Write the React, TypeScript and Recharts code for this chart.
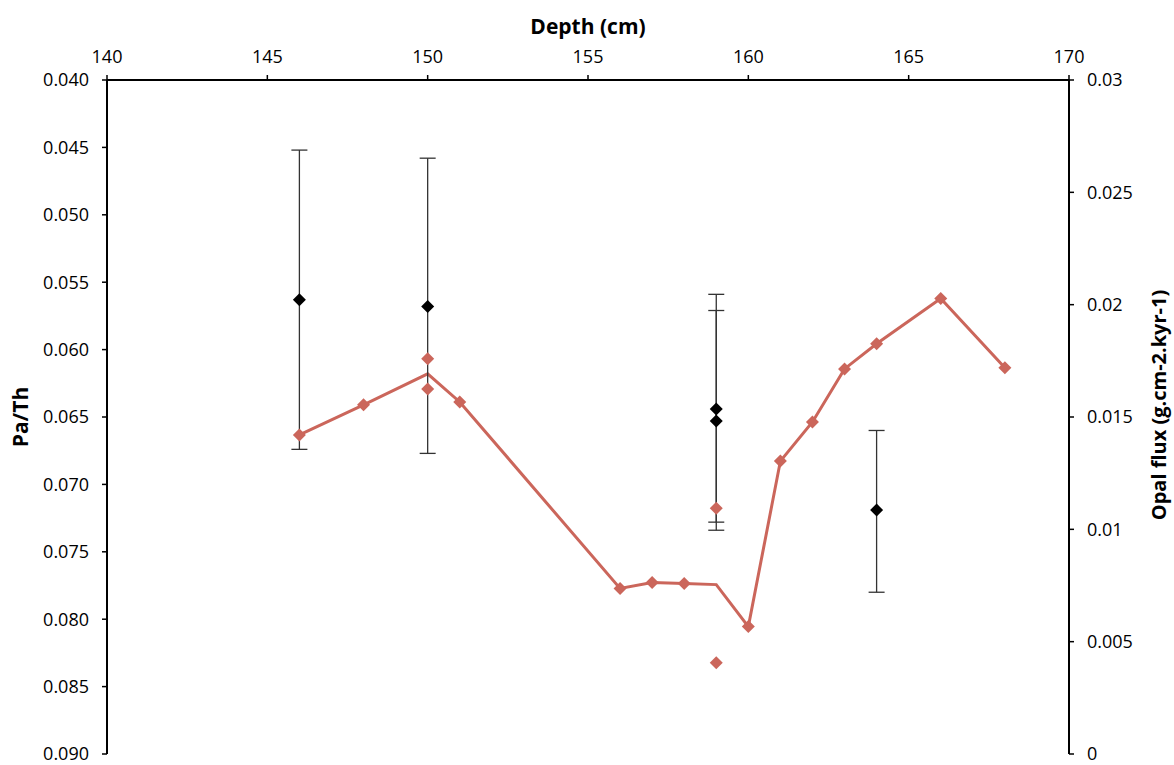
import { ComposedChart, Line, Scatter, ErrorBar, XAxis, YAxis, Label } from "recharts";

// Opal flux line (mean per depth)
const lineDepth = [146, 148, 150, 151, 156, 157, 158, 159, 160, 161, 162, 163, 164, 166, 168];
const lineOpal = [0.0142, 0.01554, 0.01692, 0.01567, 0.00737, 0.00763, 0.00759, 0.00754, 0.00567, 0.01304, 0.01478, 0.01714, 0.01826, 0.02027, 0.01719];

// Opal flux individual samples
const opalDepth = [146, 148, 150, 150, 151, 156, 157, 158, 159, 159, 160, 161, 162, 163, 164, 166, 168];
const opalValue = [0.0142, 0.01554, 0.01759, 0.01625, 0.01567, 0.00737, 0.00763, 0.00759, 0.01094, 0.00406, 0.00567, 0.01304, 0.01478, 0.01714, 0.01826, 0.02027, 0.01719];

// Pa/Th with error range
const paThDepth = [146, 150, 159, 159, 164];
const paThValue = [0.0563, 0.0568, 0.0644, 0.0653, 0.0719];
const paThLow = [0.0452, 0.0458, 0.0559, 0.0571, 0.066];
const paThHigh = [0.0674, 0.0677, 0.0728, 0.0734, 0.078];

const depthTicks = [140, 145, 150, 155, 160, 165, 170];
const paThTicks = [0.04, 0.045, 0.05, 0.055, 0.06, 0.065, 0.07, 0.075, 0.08, 0.085, 0.09];
const opalTicks = [0, 0.005, 0.01, 0.015, 0.02, 0.025, 0.03];

const RED = "#CB665B";
const FONT = "'Open Sans', sans-serif";

const lineData = lineDepth.map((d, i) => ({ depth: d, opal: lineOpal[i] }));
const opalData = opalDepth.map((d, i) => ({ depth: d, opal: opalValue[i] }));
const paThData = paThDepth.map((d, i) => ({
  depth: d,
  pa: paThValue[i],
  err: [paThValue[i] - paThLow[i], paThHigh[i] - paThValue[i]],
}));

const diamond = (color: string, r: number) => (props: any) => {
  const { cx, cy } = props;
  if (cx == null || cy == null) return <g />;
  return <path d={`M${cx},${cy - r}L${cx + r},${cy}L${cx},${cy + r}L${cx - r},${cy}Z`} fill={color} />;
};

const tickStyle = { fill: "#000", fontSize: 18, fontFamily: FONT };
const titleStyle = { fill: "#000", fontSize: 21, fontWeight: 700, fontFamily: FONT };

function TopTitle(props: any) {
  const { x, y, width } = props.viewBox;
  return (
    <text x={x + width / 2} y={y - 6} textAnchor="middle" style={titleStyle}>
      Depth (cm)
    </text>
  );
}

function LeftTitle(props: any) {
  const { x, y, height } = props.viewBox;
  const cx = x - 7;
  const cy = y + height / 2;
  return (
    <text x={cx} y={cy} transform={`rotate(-90 ${cx} ${cy})`} textAnchor="middle" dominantBaseline="central" style={titleStyle}>
      Pa/Th
    </text>
  );
}

function RightTitle(props: any) {
  const { x, y, width, height } = props.viewBox;
  const cx = x + width + 19;
  const cy = y + height / 2 - 12;
  return (
    <text x={cx} y={cy} transform={`rotate(-90 ${cx} ${cy})`} textAnchor="middle" dominantBaseline="central" style={{ ...titleStyle, fontSize: 20 }}>
      Opal flux (g.cm-2.kyr-1)
    </text>
  );
}

const fmtOpal = (v: number) => String(Number(v.toFixed(3)));

export default function App() {
  return (
    <div style={{ position: "absolute", left: 0, top: 0, width: 1174, height: 765, background: "#fff" }}>
      <ComposedChart width={1174} height={765} margin={{ top: 40, right: 35, bottom: 11, left: 27 }}>
        <XAxis
          xAxisId="depth"
          dataKey="depth"
          type="number"
          orientation="top"
          domain={[140, 170]}
          ticks={depthTicks}
          height={40}
          allowDataOverflow
          axisLine={{ stroke: "#000", strokeWidth: 2 }}
          tickLine={{ stroke: "#000", strokeWidth: 1.5 }}
          tickSize={5}
          tickMargin={12}
          tick={tickStyle}
          label={<Label content={TopTitle} />}
        />
        <YAxis
          yAxisId="left"
          orientation="left"
          type="number"
          reversed
          domain={[0.04, 0.09]}
          ticks={paThTicks}
          width={80}
          allowDataOverflow
          axisLine={{ stroke: "#000", strokeWidth: 2 }}
          tickLine={{ stroke: "#000", strokeWidth: 1.5 }}
          tickSize={5}
          tickMargin={13}
          tick={tickStyle}
          tickFormatter={(v: number) => v.toFixed(3)}
          label={<Label content={LeftTitle} />}
        />
        <YAxis
          yAxisId="right"
          orientation="right"
          type="number"
          domain={[0, 0.03]}
          ticks={opalTicks}
          width={70}
          allowDataOverflow
          axisLine={{ stroke: "#000", strokeWidth: 2 }}
          tickLine={{ stroke: "#000", strokeWidth: 1.5 }}
          tickSize={5}
          tickMargin={13}
          tick={{ ...tickStyle, textAnchor: "start" }}
          tickFormatter={fmtOpal}
          label={<Label content={RightTitle} />}
        />
        <Line
          data={lineData}
          xAxisId="depth"
          yAxisId="right"
          dataKey="opal"
          type="linear"
          stroke={RED}
          strokeWidth={3}
          dot={false}
          activeDot={false}
          isAnimationActive={false}
        />
        <Scatter
          data={opalData}
          xAxisId="depth"
          yAxisId="right"
          dataKey="opal"
          shape={diamond(RED, 6.5)}
          isAnimationActive={false}
        />
        <Scatter
          data={paThData}
          xAxisId="depth"
          yAxisId="left"
          dataKey="pa"
          shape={diamond("#000", 6.5)}
          isAnimationActive={false}
        >
          <ErrorBar dataKey="err" direction="y" width={8} stroke="#333" strokeWidth={1.3} />
        </Scatter>
      </ComposedChart>
    </div>
  );
}
